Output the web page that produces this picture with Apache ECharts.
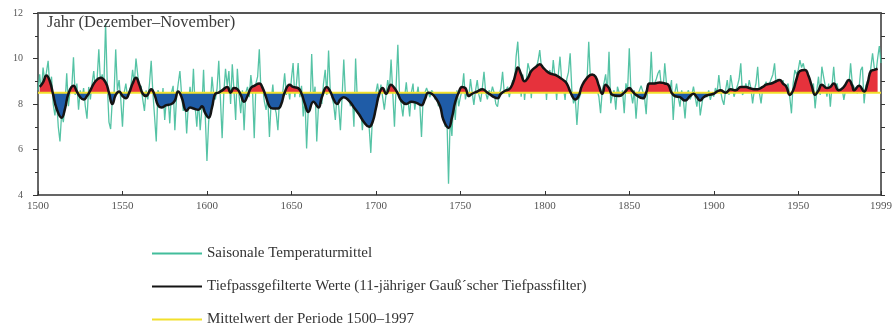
<!DOCTYPE html>
<html>
<head>
<meta charset="utf-8">
<script src="https://cdn.jsdelivr.net/npm/echarts@6/dist/echarts.min.js"></script>
<style>
  html, body { margin: 0; padding: 0; background: #ffffff; }
  #chart { width: 895px; height: 328px; }
</style>
</head>
<body>
<div id="chart"></div>
<script>
// Jahresmitteltemperatur (Dezember–November), 1500–1999, in °C
const START_YEAR = 1500;
const END_YEAR = 1999;
const MEAN_TEMP = 8.5; // Mittelwert der Periode 1500–1997

const xTickYears = [1500, 1550, 1600, 1650, 1700, 1750, 1800, 1850, 1900, 1950, 1999];

// Saisonale Temperaturmittel, ein Wert pro Jahr ab 1500
const seasonalTemps = [
  8.6, 9.3, 8.5, 9.6, 9.0, 9.4, 9.9, 8.7, 9.2, 8.0,        // 1500
  7.5, 8.2, 7.0, 6.35, 7.6, 7.2, 8.0, 9.35, 7.9, 8.6,      // 1510
  8.7, 10.05, 8.4, 8.9, 7.75, 8.6, 8.2, 8.7, 7.9, 7.35,    // 1520
  8.75, 8.2, 8.9, 9.45, 8.6, 9.1, 10.4, 8.9, 9.3, 8.8,     // 1530
  11.55, 8.9, 7.2, 6.9, 8.2, 8.4, 10.4, 8.6, 9.05, 8.2,    // 1540
  7.0, 8.5, 8.9, 8.3, 8.3, 8.8, 9.5, 8.9, 10.0, 9.3,       // 1550
  8.7, 8.8, 8.2, 7.7, 8.6, 8.2, 8.9, 9.9, 8.5, 7.45,       // 1560
  6.35, 8.6, 8.4, 7.9, 8.7, 7.3, 8.2, 8.3, 7.15, 8.5,      // 1570
  8.8, 6.85, 8.3, 8.9, 9.45, 8.4, 7.7, 8.1, 6.7, 8.0,      // 1580
  8.75, 8.0, 9.55, 7.9, 7.0, 8.2, 6.85, 7.8, 9.5, 7.5,     // 1590
  5.5, 7.2, 8.0, 9.2, 8.4, 8.2, 8.7, 9.9, 8.2, 6.5,        // 1600
  8.5, 9.55, 8.8, 9.45, 8.0, 9.75, 8.6, 7.3, 9.55, 8.4,    // 1610
  7.6, 8.6, 6.85, 8.5, 8.75, 8.3, 9.27, 8.6, 6.5, 8.9,     // 1620
  9.2, 10.4, 8.5, 8.76, 8.1, 7.74, 8.3, 6.55, 8.1, 8.85,   // 1630
  7.9, 7.6, 6.85, 8.3, 7.9, 8.6, 9.35, 8.4, 8.76, 8.2,     // 1640
  9.1, 9.8, 8.3, 8.9, 9.8, 8.3, 8.8, 7.45, 8.3, 6.05,      // 1650
  7.8, 7.7, 10.2, 8.2, 8.76, 6.35, 7.9, 8.4, 8.0, 8.9,     // 1660
  9.5, 8.4, 10.35, 8.6, 8.3, 8.0, 7.3, 8.4, 7.9, 6.85,     // 1670
  8.3, 9.95, 8.3, 8.5, 8.2, 7.9, 8.4, 7.0, 10.0, 8.2,      // 1680
  7.6, 7.9, 6.85, 7.8, 7.9, 7.2, 7.0, 5.85, 7.5, 8.0,      // 1690
  8.5, 8.9, 8.3, 8.85, 8.9, 7.75, 8.4, 9.05, 8.6, 9.95,    // 1700
  8.5, 7.0, 8.8, 10.6, 8.4, 8.0, 7.45, 8.3, 8.95, 8.2,     // 1710
  7.45, 8.5, 8.9, 7.75, 8.3, 8.76, 8.0, 6.55, 8.3, 8.5,    // 1720
  8.7, 8.76, 8.3, 8.6, 8.5, 8.2, 8.4, 7.9, 8.3, 7.6,       // 1730
  7.8, 7.0, 7.6, 4.5, 7.4, 6.6, 8.2, 7.3, 8.6, 7.9,        // 1740
  8.3, 8.6, 9.35, 8.2, 8.6, 8.3, 9.1, 8.5, 7.96, 8.6,      // 1750
  9.05, 8.4, 8.1, 8.7, 9.42, 8.5, 8.2, 8.6, 8.4, 8.76,     // 1760
  8.5, 8.0, 7.88, 8.4, 8.7, 9.42, 8.47, 8.6, 8.76, 8.3,    // 1770
  8.7, 9.05, 8.8, 10.08, 10.74, 9.4, 8.32, 9.3, 8.18, 9.0, // 1780
  9.79, 9.5, 8.25, 9.4, 9.2, 9.6, 9.9, 10.37, 9.6, 8.61,   // 1790
  9.4, 8.18, 9.3, 9.49, 9.0, 9.93, 9.2, 8.18, 9.3, 10.08,  // 1800
  9.0, 8.76, 8.18, 9.1, 9.4, 10.23, 8.6, 8.03, 8.3, 7.08,  // 1810
  8.2, 8.4, 8.6, 8.91, 8.6, 9.05, 10.74, 9.1, 9.05, 8.83,  // 1820
  9.0, 8.6, 8.32, 7.6, 8.6, 8.9, 9.3, 8.5, 10.3, 8.03,     // 1830
  8.4, 8.6, 7.75, 8.76, 8.5, 8.32, 8.6, 7.6, 8.91, 8.6,    // 1840
  10.45, 8.5, 8.03, 8.6, 7.35, 8.4, 8.32, 8.8, 8.76, 8.3,  // 1850
  7.55, 8.9, 8.6, 10.3, 8.6, 8.91, 9.1, 9.35, 9.49, 8.76,  // 1860
  8.6, 9.79, 8.9, 8.91, 8.6, 9.05, 7.3, 8.5, 8.9, 8.3,     // 1870
  7.88, 8.6, 8.2, 7.37, 8.4, 8.6, 8.2, 8.4, 8.76, 8.3,     // 1880
  7.88, 8.5, 7.5, 8.0, 8.5, 8.47, 8.3, 8.6, 8.18, 8.5,     // 1890
  8.32, 8.7, 8.5, 9.27, 8.6, 8.2, 7.96, 8.6, 9.05, 8.4,    // 1900
  9.27, 8.8, 8.32, 8.6, 8.8, 9.1, 9.79, 8.4, 8.54, 8.91,   // 1910
  8.6, 9.05, 8.7, 8.03, 8.6, 8.9, 9.64, 8.5, 8.03, 8.7,    // 1920
  8.8, 8.98, 8.6, 8.9, 8.91, 9.3, 9.79, 8.76, 9.1, 8.76,   // 1930
  8.6, 9.05, 8.6, 8.61, 8.9, 8.3, 7.59, 8.9, 9.49, 9.3,    // 1940
  9.5, 9.93, 9.6, 9.79, 9.4, 9.27, 8.9, 8.76, 8.6, 8.9,    // 1950
  7.81, 8.6, 9.2, 8.4, 9.64, 9.2, 8.8, 8.32, 8.9, 7.88,    // 1960
  8.8, 9.64, 8.7, 8.91, 8.5, 8.61, 8.7, 8.18, 8.6, 8.61,   // 1970
  8.8, 9.79, 8.9, 8.76, 8.6, 8.47, 8.7, 9.49, 9.64, 8.03,  // 1980
  8.8, 9.0, 8.91, 9.6, 10.23, 9.6, 9.35, 10.0, 10.55, 9.8  // 1990
];

// Tiefpassgefilterte Werte (11-jähriger Gauß'scher Tiefpassfilter)
const filterYears = [
  1501, 1503, 1505, 1507, 1509, 1511, 1514, 1516, 1518, 1521, 1523, 1525, 1527, 1529,
  1531, 1534, 1537, 1540, 1542, 1544, 1546, 1548, 1550, 1552, 1554, 1556, 1558, 1560,
  1562, 1564, 1567, 1569, 1571, 1573, 1576, 1579, 1581, 1583, 1585, 1588, 1590, 1592,
  1595, 1597, 1599, 1601, 1603, 1605, 1607, 1609, 1612, 1614, 1616, 1618, 1620, 1622,
  1624, 1626, 1628, 1631, 1633, 1635, 1637, 1639, 1642, 1644, 1646, 1649, 1651, 1654,
  1656, 1658, 1660, 1663, 1666, 1668, 1671, 1673, 1675, 1677, 1679, 1681, 1684, 1687,
  1690, 1693, 1696, 1698, 1700, 1702, 1704, 1706, 1709, 1711, 1713, 1715, 1718, 1721,
  1724, 1727, 1729, 1731, 1733, 1735, 1738, 1740, 1743, 1745, 1747, 1749, 1751, 1753,
  1755, 1757, 1760, 1763, 1766, 1768, 1770, 1772, 1774, 1777, 1779, 1781, 1783, 1784,
  1786, 1788, 1790, 1792, 1795, 1797, 1799, 1801, 1803, 1805, 1807, 1809, 1811, 1813,
  1815, 1817, 1818, 1820, 1822, 1825, 1828, 1830, 1832, 1834, 1836, 1838, 1840, 1844,
  1847, 1850, 1852, 1854, 1858, 1860, 1862, 1865, 1868, 1871, 1873, 1875, 1877, 1880,
  1883, 1886, 1888, 1890, 1892, 1894, 1897, 1900, 1902, 1904, 1907, 1910, 1913, 1916,
  1919, 1921, 1924, 1926, 1929, 1931, 1934, 1937, 1939, 1941, 1943, 1945, 1947, 1949,
  1951, 1954, 1956, 1958, 1960, 1962, 1964, 1967, 1969, 1971, 1974, 1977, 1980, 1982,
  1983, 1986, 1989, 1991, 1993, 1995, 1997
];
const filterTemps = [
  8.75, 8.95, 9.25, 9.0, 8.4, 7.8, 7.4, 7.8, 8.45, 8.8, 8.55, 8.3, 8.2, 8.35,
  8.6, 9.0, 9.15, 8.95, 8.5, 8.0, 8.4, 8.55, 8.35, 8.25, 8.5, 8.9, 9.15, 8.85,
  8.45, 8.35, 8.65, 8.4, 7.95, 7.85, 7.95, 8.0, 8.15, 8.55, 8.3, 7.7, 7.85, 7.8,
  7.75, 7.9, 7.6, 7.4, 7.85, 8.45, 8.5, 8.6, 8.75, 8.5, 8.7, 8.65, 8.4, 8.1,
  8.35, 8.7, 8.8, 8.9, 8.7, 8.3, 7.9, 7.8, 7.8, 8.0, 8.5, 8.85, 8.75, 8.7,
  8.45, 8.0, 7.65, 8.1, 7.85, 8.3, 8.75, 8.55, 8.2, 8.0, 8.2, 8.3, 8.15, 7.85,
  7.55, 7.2, 7.0, 7.2, 7.8, 8.45, 8.7, 8.45, 8.85, 8.7, 8.45, 8.15, 8.0, 8.1,
  8.05, 7.95, 8.2, 8.5, 8.45, 8.3, 7.9, 7.3, 6.95, 7.4, 8.1, 8.5, 8.75, 8.7,
  8.35, 8.45, 8.55, 8.65, 8.5, 8.4, 8.3, 8.25, 8.45, 8.6, 8.65, 8.9, 9.4, 9.6,
  9.3, 9.0, 9.15, 9.45, 9.65, 9.75, 9.6, 9.45, 9.35, 9.3, 9.25, 9.15, 9.05, 8.9,
  8.55, 8.25, 8.2, 8.35, 8.8, 9.15, 9.3, 9.2, 8.8, 8.45, 8.85, 8.7, 8.4, 8.35,
  8.5, 8.7, 8.55, 8.4, 8.25, 8.5, 8.9, 8.9, 8.95, 8.9, 8.85, 8.5, 8.35, 8.3,
  8.15, 8.35, 8.45, 8.3, 8.15, 8.3, 8.4, 8.45, 8.55, 8.6, 8.5, 8.65, 8.6, 8.75,
  8.75, 8.7, 8.65, 8.65, 8.75, 8.85, 8.9, 9.0, 9.05, 8.9, 8.75, 8.4, 8.6, 9.1,
  9.45, 9.5, 9.25, 8.8, 8.4, 8.6, 8.85, 8.7, 8.75, 8.9, 8.6, 8.75, 9.05, 8.8,
  8.6, 8.8, 8.55, 8.9, 9.45, 9.5, 9.55
];

const SERIES_RAW = 'Saisonale Temperaturmittel';
const SERIES_FILTER = 'Tiefpassgefilterte Werte (11-jähriger Gauß´scher Tiefpassfilter)';
const SERIES_MEAN = 'Mittelwert der Periode 1500–1997';

const SERIF = '"Liberation Serif", "DejaVu Serif", serif';
const GREEN = '#42bd9b';
const RED = '#e6323c';
const BLUE = '#1f5ca7';
const YELLOW = '#f2e02c';
const BLACK = '#141414';

const rawPoints = seasonalTemps.map((t, i) => [START_YEAR + i, t]);
const filterPoints = filterYears.map((y, i) => [y, filterTemps[i]]);

const chart = echarts.init(document.getElementById('chart'), null, { renderer: 'canvas' });

const yAxisBase = {
  type: 'value', min: 4, max: 12, interval: 2,
  splitLine: { show: false }, minorSplitLine: { show: false }
};

const option = {
  animation: false,
  backgroundColor: '#ffffff',
  title: {
    text: 'Jahr (Dezember–November)',
    left: 47, top: 14, padding: 0,
    textStyle: { fontFamily: SERIF, fontSize: 16.5, fontWeight: 'normal', color: '#3a3a3a' }
  },
  grid: { left: 38, right: 12, top: 13, bottom: 133 },
  legend: {
    orient: 'vertical', left: 152, top: 246, padding: 0,
    itemWidth: 50, itemHeight: 2, itemGap: 18, icon: 'rect',
    selectedMode: false,
    textStyle: { fontFamily: SERIF, fontSize: 15, color: '#333' },
    data: [SERIES_RAW, SERIES_FILTER, SERIES_MEAN]
  },
  xAxis: [
    {
      type: 'value', min: START_YEAR, max: END_YEAR, position: 'bottom',
      axisLine: { lineStyle: { color: '#333', width: 1.5 } },
      axisTick: { inside: true, length: 4, customValues: xTickYears, lineStyle: { color: '#333' } },
      axisLabel: {
        customValues: xTickYears, formatter: v => String(v),
        fontFamily: SERIF, fontSize: 11, color: '#555', margin: 6
      },
      splitLine: { show: false }
    },
    {
      type: 'value', min: START_YEAR, max: END_YEAR, position: 'top',
      axisLine: { lineStyle: { color: '#555', width: 2 } },
      axisTick: { show: false }, axisLabel: { show: false }, splitLine: { show: false }
    }
  ],
  yAxis: [
    Object.assign({}, yAxisBase, {
      position: 'left',
      axisLine: { show: true, lineStyle: { color: '#333', width: 1.5 } },
      axisTick: { show: true, length: 5, lineStyle: { color: '#333' } },
      minorTick: { show: true, splitNumber: 2, length: 3, lineStyle: { color: '#333' } },
      axisLabel: { fontFamily: SERIF, fontSize: 10, color: '#555', margin: 15 }
    }),
    Object.assign({}, yAxisBase, {
      position: 'right',
      axisLine: { show: true, lineStyle: { color: '#333', width: 1.5 } },
      axisTick: { show: true, length: 4, lineStyle: { color: '#333' } },
      minorTick: { show: true, splitNumber: 2, length: 4, lineStyle: { color: '#333' } },
      axisLabel: { show: false }
    })
  ],
  series: [
    {
      name: SERIES_RAW, type: 'line', data: rawPoints,
      symbol: 'none', z: 1, silent: true,
      itemStyle: { color: GREEN },
      lineStyle: { color: GREEN, width: 1.3, opacity: 0.9 }
    },
    {
      // area between the filtered curve and the long-term mean
      name: 'Abweichung', type: 'line', data: filterPoints,
      smooth: true, symbol: 'none', z: 2, silent: true,
      itemStyle: { color: RED },
      lineStyle: { width: 0, opacity: 0 },
      areaStyle: { origin: MEAN_TEMP, color: RED, opacity: 1 }
    },
    {
      name: SERIES_MEAN, type: 'line', data: [[START_YEAR, MEAN_TEMP], [END_YEAR, MEAN_TEMP]],
      symbol: 'none', z: 3, silent: true,
      itemStyle: { color: YELLOW },
      lineStyle: { color: YELLOW, width: 2 }
    },
    {
      name: SERIES_FILTER, type: 'line', data: filterPoints,
      smooth: true, symbol: 'none', z: 4, silent: true,
      itemStyle: { color: BLACK },
      lineStyle: { color: BLACK, width: 2.5 }
    }
  ]
};
chart.setOption(option);

// colour the deviation area red above the mean and blue below it
const yTop = chart.convertToPixel({ yAxisIndex: 0 }, 12);
const yBottom = chart.convertToPixel({ yAxisIndex: 0 }, 4);
const yMean = chart.convertToPixel({ yAxisIndex: 0 }, MEAN_TEMP);
const split = (yMean - yTop) / (yBottom - yTop);
const fill = new echarts.graphic.LinearGradient(0, yTop, 0, yBottom, [
  { offset: 0, color: RED }, { offset: split, color: RED },
  { offset: split, color: BLUE }, { offset: 1, color: BLUE }
], true);
chart.setOption({ series: [{}, { areaStyle: { color: fill, opacity: 1 } }] });
</script>
</body>
</html>
